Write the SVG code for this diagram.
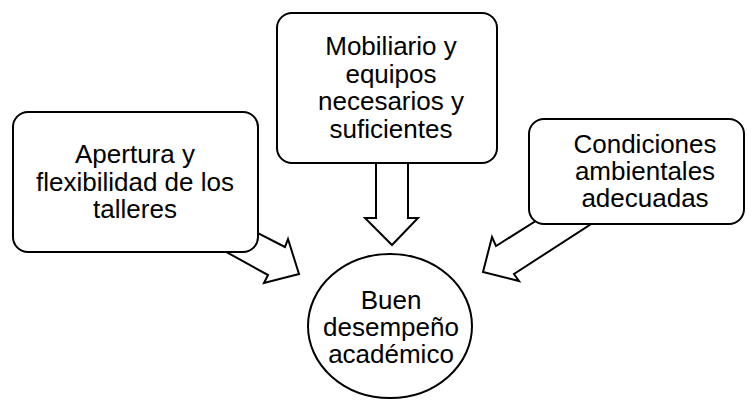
<svg xmlns="http://www.w3.org/2000/svg" width="752" height="400" viewBox="0 0 752 400">
<style>
.shape{fill:#fff;stroke:#000;stroke-width:2;stroke-linejoin:miter}
.lbl{font-family:"Liberation Sans",Arial,sans-serif;font-size:26px;fill:#000;text-anchor:middle}
</style>
<rect width="752" height="400" fill="#fff"/>
<g id="connectors">
<polygon class="shape" points="240,224 285,247 288,239 299,274 264,283 268,275 210,243"/>
<polygon class="shape" points="376,150 408,150 408,218 418,218 392,245 365,218 376,218"/>
<polygon class="shape" points="550,212 496,246 492,237 483,272 519,281 514,274 605,215"/>
</g>
<g id="node-apertura">
<rect class="shape" x="13" y="112" width="245" height="140" rx="15"/>
<text class="lbl" x="135" y="163">Apertura y</text>
<text class="lbl" x="135" y="190.5">flexibilidad de los</text>
<text class="lbl" x="135" y="218">talleres</text>
</g>
<g id="node-mobiliario">
<rect class="shape" x="277" y="13" width="220" height="150" rx="15"/>
<text class="lbl" x="391" y="55">Mobiliario y</text>
<text class="lbl" x="391" y="82.5">equipos</text>
<text class="lbl" x="391" y="110">necesarios y</text>
<text class="lbl" x="391" y="137.5">suficientes</text>
</g>
<g id="node-condiciones">
<rect class="shape" x="529" y="119" width="215" height="105" rx="15"/>
<text class="lbl" x="645" y="153">Condiciones</text>
<text class="lbl" x="645" y="180">ambientales</text>
<text class="lbl" x="645" y="207">adecuadas</text>
</g>
<g id="node-buen">
<ellipse class="shape" cx="390" cy="326" rx="82" ry="72"/>
<text class="lbl" x="391" y="309">Buen</text>
<text class="lbl" x="391" y="336">desempeño</text>
<text class="lbl" x="391" y="363">académico</text>
</g>
</svg>
